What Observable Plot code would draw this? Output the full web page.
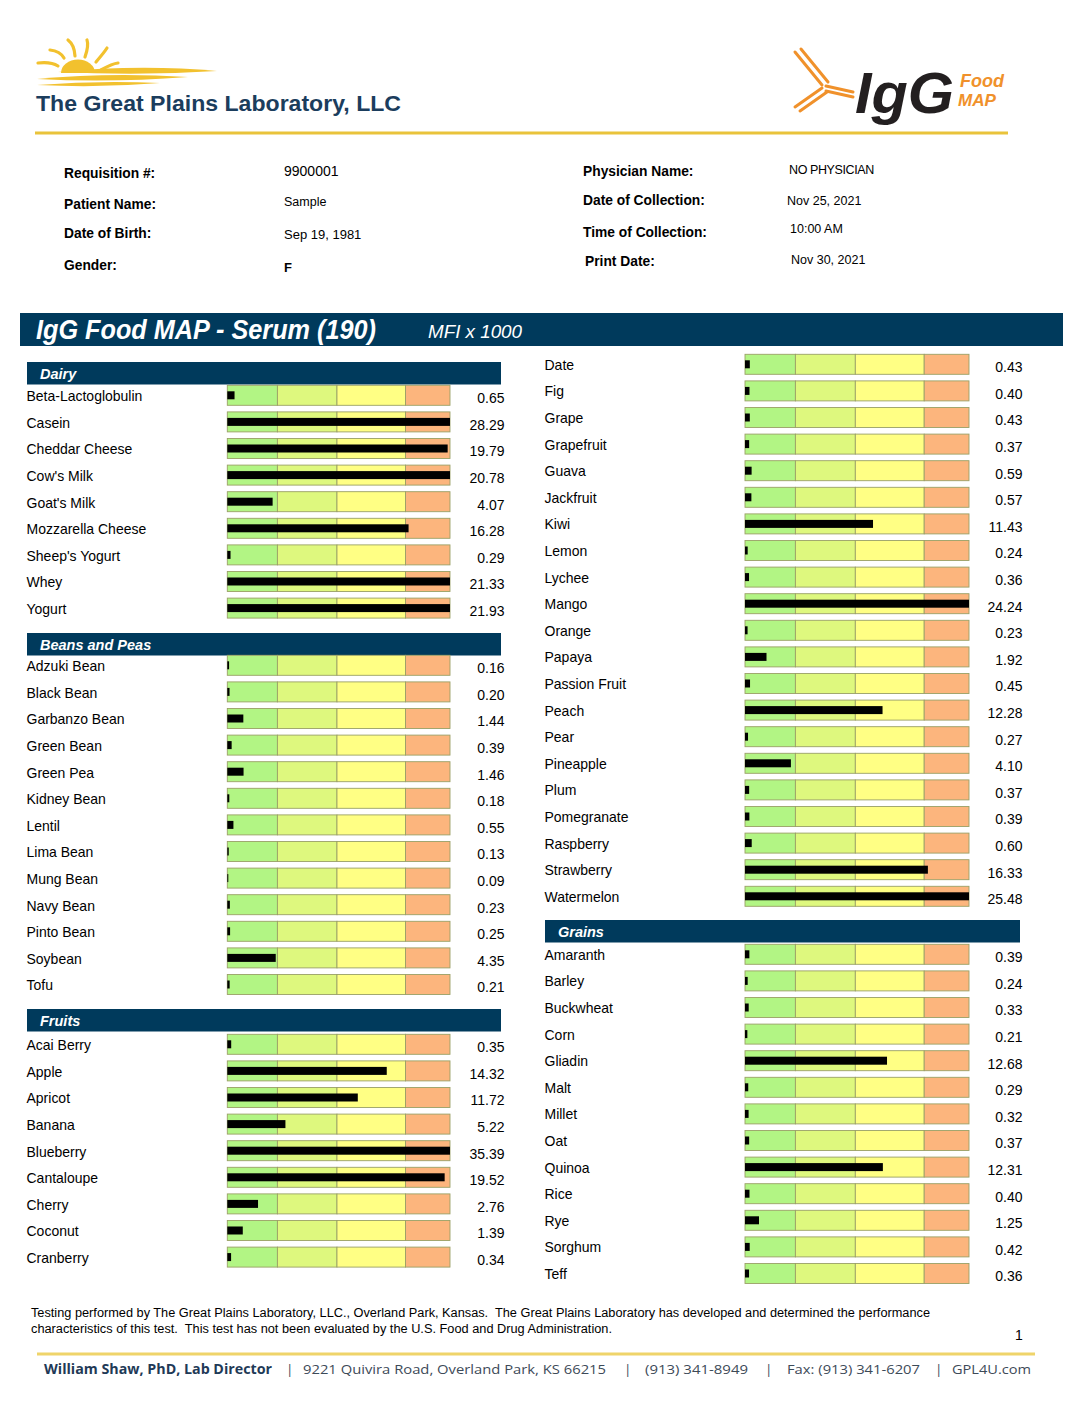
<!DOCTYPE html>
<html>
<head>
<meta charset="utf-8">
<script src="https://cdn.jsdelivr.net/npm/d3@7"></script>
<script src="https://cdn.jsdelivr.net/npm/@observablehq/plot@0.6"></script>
<style>
  html, body { margin: 0; padding: 0; background: #fff; }
  #page { position: relative; width: 1088px; height: 1408px; overflow: hidden; font-family: "Liberation Sans", Arial, sans-serif; }
  #page > svg.overlay { position: absolute; left: 0; top: 0; }
  .sec { position: absolute; }
  .sec svg { display: block; overflow: visible; }
</style>
</head>
<body>
<div id="page"></div>
<script>
// ---------------- DATA ----------------
const dairyFoods = ["Beta-Lactoglobulin","Casein","Cheddar Cheese","Cow's Milk","Goat's Milk","Mozzarella Cheese","Sheep's Yogurt","Whey","Yogurt"];
const dairyValues = [0.65, 28.29, 19.79, 20.78, 4.07, 16.28, 0.29, 21.33, 21.93];

const beanFoods = ["Adzuki Bean","Black Bean","Garbanzo Bean","Green Bean","Green Pea","Kidney Bean","Lentil","Lima Bean","Mung Bean","Navy Bean","Pinto Bean","Soybean","Tofu"];
const beanValues = [0.16, 0.20, 1.44, 0.39, 1.46, 0.18, 0.55, 0.13, 0.09, 0.23, 0.25, 4.35, 0.21];

const fruitFoodsA = ["Acai Berry","Apple","Apricot","Banana","Blueberry","Cantaloupe","Cherry","Coconut","Cranberry"];
const fruitValuesA = [0.35, 14.32, 11.72, 5.22, 35.39, 19.52, 2.76, 1.39, 0.34];

const fruitFoodsB = ["Date","Fig","Grape","Grapefruit","Guava","Jackfruit","Kiwi","Lemon","Lychee","Mango","Orange","Papaya","Passion Fruit","Peach","Pear","Pineapple","Plum","Pomegranate","Raspberry","Strawberry","Watermelon"];
const fruitValuesB = [0.43, 0.40, 0.43, 0.37, 0.59, 0.57, 11.43, 0.24, 0.36, 24.24, 0.23, 1.92, 0.45, 12.28, 0.27, 4.10, 0.37, 0.39, 0.60, 16.33, 25.48];

const grainFoods = ["Amaranth","Barley","Buckwheat","Corn","Gliadin","Malt","Millet","Oat","Quinoa","Rice","Rye","Sorghum","Teff"];
const grainValues = [0.39, 0.24, 0.33, 0.21, 12.68, 0.29, 0.32, 0.37, 12.31, 0.40, 1.25, 0.42, 0.36];

const scaleDomain = [0, 20];
const zoneBreaks = [0, 4.5, 9.85, 16, 20];
const zoneNames = ["zone1","zone2","zone3","zone4"];
const zoneColors = ["#b2f584", "#def87e", "#ffff84", "#fcb57d"];

const sectionTitles = ["Dairy","Beans and Peas","Fruits","Grains"];

const patientLabelsL = ["Requisition #:","Patient Name:","Date of Birth:","Gender:"];
const patientValuesL = ["9900001","Sample","Sep 19, 1981","F"];
const patientLabelsR = ["Physician Name:","Date of Collection:","Time of Collection:","Print Date:"];
const patientValuesR = ["NO PHYSICIAN","Nov 25, 2021","10:00 AM","Nov 30, 2021"];

// ---------------- LAYOUT ----------------
const STEP = 26.6;
const page = document.getElementById("page");
const NS = "http://www.w3.org/2000/svg";
const ov = document.createElementNS(NS, "svg");
ov.setAttribute("class", "overlay");
ov.setAttribute("width", 1088);
ov.setAttribute("height", 1408);
page.appendChild(ov);

function el(tag, attrs, text) {
  const e = document.createElementNS(NS, tag);
  for (const k in attrs) e.setAttribute(k, attrs[k]);
  if (text != null) e.textContent = text;
  ov.appendChild(e);
  return e;
}
const SANS = "Liberation Sans, Arial, sans-serif";

// --- left logo (sun) ---
const gold = "#f2c12e";
el("path", {d: "M61,73 A17,13.5 0 0 1 95,73 Z", fill: gold});
const rays = [[38,63,58,66],[50,50,64,58],[68,40,75,56],[87,40,85,57],[107,48,96,62],[118,63,101,70]];
rays.forEach(r => el("path", {d: `M${r[0]},${r[1]} Q${(r[0]+r[2])/2+3},${(r[1]+r[3])/2-3} ${r[2]},${r[3]}`, stroke: gold, "stroke-width": 3.2, fill: "none", "stroke-linecap": "round"}));
el("path", {d: "M58,72 Q140,64 217,71 Q140,76 58,72 Z", fill: gold});
el("path", {d: "M37,79 Q110,72 188,77 Q110,83 37,79 Z", fill: gold});
el("path", {d: "M37,85 Q100,80 160,83 Q100,88 37,85 Z", fill: gold});
el("text", {x: 36, y: 111, "font-family": SANS, "font-weight": "bold", "font-size": 22, fill: "#1b3d5d", textLength: 365, lengthAdjust: "spacingAndGlyphs"}, "The Great Plains Laboratory, LLC");
el("rect", {x: 35, y: 131.5, width: 973, height: 3, fill: "#e9c33b"});

// --- right logo (IgG Food MAP) ---
const orange = "#f0912b";
[[795,52,822,85],[801,49,828,82],[795,107,822,88],[800,111,827,92],[826,86,853,92],[826,91,853,97]].forEach(l =>
  el("line", {x1: l[0], y1: l[1], x2: l[2], y2: l[3], stroke: orange, "stroke-width": 3, "stroke-linecap": "round"}));
el("text", {x: 855, y: 113, "font-family": SANS, "font-weight": "bold", "font-style": "italic", "font-size": 58, fill: "#231f20", textLength: 99, lengthAdjust: "spacingAndGlyphs"}, "IgG");
el("text", {x: 960, y: 87, "font-family": SANS, "font-weight": "bold", "font-style": "italic", "font-size": 18, fill: orange, textLength: 44, lengthAdjust: "spacingAndGlyphs"}, "Food");
el("text", {x: 958, y: 105.5, "font-family": SANS, "font-weight": "bold", "font-style": "italic", "font-size": 17, fill: orange, textLength: 38, lengthAdjust: "spacingAndGlyphs"}, "MAP");

// --- patient info ---
const rowYL = [178, 209, 238, 270];
const valYL = [176, 205.5, 238.5, 272];
const valSizeL = [14, 12.5, 13, 13];
patientLabelsL.forEach((t, i) => el("text", {x: 64, y: rowYL[i], "font-family": SANS, "font-weight": "bold", "font-size": 13.8, fill: "#000"}, t));
patientValuesL.forEach((t, i) => el("text", {x: 284, y: valYL[i], "font-family": SANS, "font-weight": i === 3 ? "bold" : "normal", "font-size": valSizeL[i], fill: "#000"}, t));
const rowYR = [176, 205, 237, 266];
const rowXR = [583, 583, 583, 585];
const valYR = [173.5, 204.5, 232.5, 263.5];
const valXR = [789, 787, 790, 791];
patientLabelsR.forEach((t, i) => el("text", {x: rowXR[i], y: rowYR[i], "font-family": SANS, "font-weight": "bold", "font-size": 13.8, fill: "#000"}, t));
patientValuesR.forEach((t, i) => el("text", {x: valXR[i], y: valYR[i], "font-family": SANS, "font-size": 12.5, fill: "#000", "letter-spacing": i === 0 ? -0.4 : 0}, t));

// --- title bar ---
const navy = "#003a5c";
el("rect", {x: 20, y: 313, width: 1043, height: 33, fill: navy});
el("text", {x: 36, y: 338.5, "font-family": SANS, "font-weight": "bold", "font-style": "italic", "font-size": 27, fill: "#fff", textLength: 340, lengthAdjust: "spacingAndGlyphs"}, "IgG Food MAP - Serum (190)");
el("text", {x: 428, y: 337.5, "font-family": SANS, "font-style": "italic", "font-size": 17.5, fill: "#fff", textLength: 94, lengthAdjust: "spacingAndGlyphs"}, "MFI x 1000");

// --- section headers ---
const headers = [
  {x: 27, y: 362, w: 474, tx: 40, ty: 379},
  {x: 27, y: 633, w: 474, tx: 40, ty: 650},
  {x: 27, y: 1009, w: 474, tx: 40, ty: 1026},
  {x: 545, y: 920, w: 475, tx: 558, ty: 937}
];
headers.forEach((h, i) => {
  el("rect", {x: h.x, y: h.y, width: h.w, height: 22.5, fill: navy});
  el("text", {x: h.tx, y: h.ty, "font-family": SANS, "font-weight": "bold", "font-style": "italic", "font-size": 14.5, fill: "#fff"}, sectionTitles[i]);
});

// --- footer ---
el("text", {x: 31, y: 1317, "font-family": SANS, "font-size": 12, fill: "#000", textLength: 899, lengthAdjust: "spacingAndGlyphs"}, "Testing performed by The Great Plains Laboratory, LLC., Overland Park, Kansas.\u00a0 The Great Plains Laboratory has developed and determined the performance");
el("text", {x: 31, y: 1333, "font-family": SANS, "font-size": 12, fill: "#000", textLength: 581, lengthAdjust: "spacingAndGlyphs"}, "characteristics of this test.\u00a0 This test has not been evaluated by the U.S. Food and Drug Administration.");
el("text", {x: 1015, y: 1340, "font-family": SANS, "font-size": 14, fill: "#000"}, "1");
el("rect", {x: 37, y: 1352.5, width: 998, height: 3, fill: "#efd46a"});
const footItems = [
  {x: 44, t: "William Shaw, PhD, Lab Director", b: true, w: 228},
  {x: 286, t: "|"},
  {x: 303, t: "9221 Quivira Road, Overland Park, KS 66215", w: 303},
  {x: 624, t: "|"},
  {x: 645, t: "(913) 341-8949", w: 103},
  {x: 765, t: "|"},
  {x: 787, t: "Fax: (913) 341-6207", w: 133},
  {x: 935, t: "|"},
  {x: 952, t: "GPL4U.com", w: 79}
];
footItems.forEach(f => {
  const a = {x: f.x, y: 1374, "font-family": "Open Sans, " + SANS, "font-weight": f.b ? "bold" : "normal", "font-size": 13.5, fill: f.b ? "#1f3a57" : "#3d4a58"};
  if (f.w) { a.textLength = f.w; a.lengthAdjust = "spacingAndGlyphs"; }
  el("text", a, f.t);
});

// ---------------- CHART SECTIONS (Observable Plot) ----------------
function section(foods, values, cfg) {
  const rows = foods.map((f, i) => ({food: f, value: values[i]}));
  const zones = rows.flatMap(r => zoneNames.map((z, j) => ({food: r.food, x1: zoneBreaks[j], x2: zoneBreaks[j + 1], zone: z})));
  const h = foods.length * STEP;
  const chart = Plot.plot({
    width: cfg.width,
    height: h,
    marginLeft: cfg.barLeft - cfg.left,
    marginRight: cfg.left + cfg.width - cfg.barRight,
    marginTop: 0,
    marginBottom: 0,
    style: {background: "transparent", overflow: "visible", fontFamily: SANS},
    x: {domain: scaleDomain, clamp: true, axis: null},
    y: {domain: foods, axis: null, padding: 0, round: false},
    color: {domain: zoneNames, range: zoneColors},
    marks: [
      Plot.barX(zones, {x1: "x1", x2: "x2", y: "food", fill: "zone", stroke: "#9aa066", strokeWidth: 0.9, insetTop: 3.3, insetBottom: 3.3}),
      Plot.barX(rows, {x: "value", y: "food", fill: "#000", insetTop: 9.3, insetBottom: 9.3}),
      Plot.text(rows, {y: "food", text: "food", frameAnchor: "left", textAnchor: "start", dx: -(cfg.barLeft - cfg.labelX), dy: cfg.labelDy, fontSize: 14, fill: "#000"}),
      Plot.text(rows, {y: "food", text: d => d.value.toFixed(2), frameAnchor: "right", textAnchor: "end", dx: cfg.valueRight - cfg.barRight, dy: 3, fontSize: 14, fill: "#000"})
    ]
  });
  const wrap = document.createElement("div");
  wrap.className = "sec";
  wrap.style.left = cfg.left + "px";
  wrap.style.top = (cfg.firstCenter - STEP / 2) + "px";
  wrap.appendChild(chart);
  page.appendChild(wrap);
}

const leftCol = {left: 20, width: 500, barLeft: 227.3, barRight: 450, valueRight: 504, labelX: 26, labelDy: 1};
const rightCol = {left: 540, width: 490, barLeft: 745, barRight: 969, valueRight: 1022, labelX: 544, labelDy: 0.5};

section(dairyFoods, dairyValues, {...leftCol, firstCenter: 395});
section(beanFoods, beanValues, {...leftCol, firstCenter: 665});
section(fruitFoodsA, fruitValuesA, {...leftCol, firstCenter: 1044});
section(fruitFoodsB, fruitValuesB, {...rightCol, firstCenter: 364});
section(grainFoods, grainValues, {...rightCol, firstCenter: 954});
</script>
</body>
</html>
